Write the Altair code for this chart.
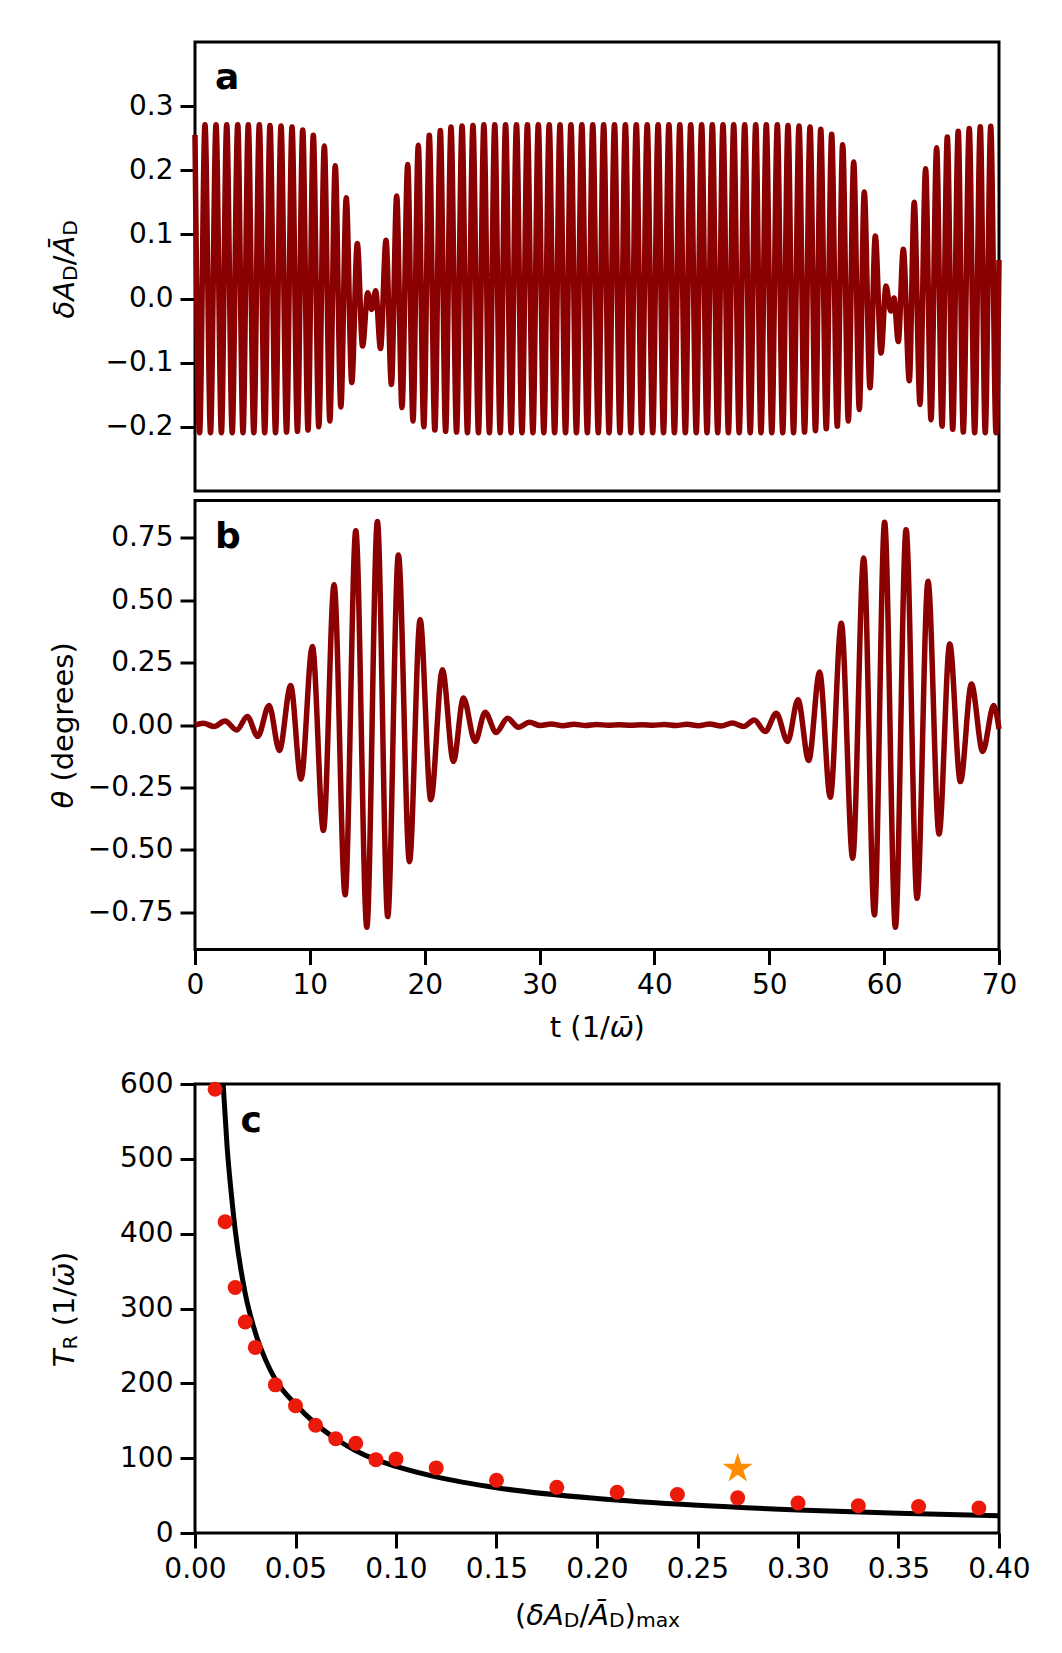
import altair as alt
import pandas as pd

# ---------------- panel a : extrema of dA_D/A_D ----------------
a_t = [0.00, 0.40, 0.87, 1.35, 1.83, 2.30, 2.76, 3.24, 3.72, 4.18,
       4.64, 5.12, 5.60, 6.07, 6.53, 7.01, 7.49, 7.97, 8.45, 8.92,
       9.38, 9.84, 10.30, 10.78, 11.26, 11.74, 12.21, 12.70, 13.17, 13.65,
       14.13, 14.59, 15.04, 15.38, 15.73, 16.15, 16.63, 17.10, 17.56, 18.02,
       18.52, 18.98, 19.44, 19.92, 20.40, 20.88, 21.36, 21.82, 22.29, 22.77,
       23.25, 23.72, 24.20, 24.68, 25.15, 25.63, 26.10, 26.57, 27.04, 27.52,
       27.99, 28.47, 28.94, 29.42, 29.89, 30.37, 30.84, 31.31, 31.78, 32.26,
       32.73, 33.21, 33.68, 34.16, 34.63, 35.11, 35.58, 36.05, 36.52, 37.00,
       37.47, 37.95, 38.42, 38.90, 39.37, 39.85, 40.32, 40.79, 41.26, 41.74,
       42.21, 42.69, 43.16, 43.64, 44.11, 44.58, 45.04, 45.51, 45.97, 46.44,
       46.90, 47.38, 47.86, 48.34, 48.82, 49.28, 49.74, 50.22, 50.70, 51.17,
       51.63, 52.11, 52.59, 53.07, 53.55, 54.02, 54.48, 54.96, 55.43, 55.92,
       56.39, 56.88, 57.35, 57.84, 58.27, 58.77, 59.23, 59.73, 60.16, 60.57,
       60.86, 61.23, 61.67, 62.19, 62.62, 63.12, 63.61, 64.08, 64.57, 65.04,
       65.50, 65.97, 66.45, 66.89, 67.41, 67.88, 68.37, 68.80, 69.28, 69.74,
       70.00]
a_v = [0.255, -0.209, 0.271, -0.209, 0.271, -0.209, 0.271, -0.209, 0.271, -0.209,
       0.271, -0.209, 0.271, -0.209, 0.270, -0.209, 0.269, -0.208, 0.2675, -0.207,
       0.263, -0.205, 0.2545, -0.200, 0.238, -0.191, 0.207, -0.169, 0.157, -0.131,
       0.086, -0.074, 0.009, -0.017, 0.012, -0.078, 0.091, -0.134, 0.160, -0.170,
       0.209, -0.191, 0.239, -0.200, 0.2545, -0.205, 0.262, -0.207, 0.2675, -0.208,
       0.269, -0.209, 0.270, -0.209, 0.271, -0.209, 0.271, -0.209, 0.271, -0.209,
       0.271, -0.209, 0.271, -0.209, 0.271, -0.209, 0.271, -0.209, 0.271, -0.209,
       0.271, -0.209, 0.271, -0.209, 0.271, -0.209, 0.271, -0.209, 0.271, -0.209,
       0.271, -0.209, 0.271, -0.209, 0.271, -0.209, 0.271, -0.209, 0.271, -0.209,
       0.271, -0.209, 0.271, -0.209, 0.271, -0.209, 0.271, -0.209, 0.271, -0.209,
       0.271, -0.209, 0.271, -0.209, 0.271, -0.209, 0.271, -0.209, 0.271, -0.209,
       0.270, -0.209, 0.269, -0.208, 0.2675, -0.206, 0.264, -0.203, 0.256, -0.199,
       0.240, -0.191, 0.213, -0.173, 0.166, -0.139, 0.0975, -0.085, 0.0195, -0.0195,
       0.001, -0.067, 0.077, -0.128, 0.150, -0.165, 0.2025, -0.189, 0.235, -0.199,
       0.252, -0.204, 0.261, -0.208, 0.265, -0.209, 0.268, -0.209, 0.2685, -0.209,
       0.06]

# ---------------- panel b : extrema of theta (degrees) ----------------
b_t = [0.00, 0.73, 1.66, 2.61, 3.63, 4.56, 5.46, 6.45, 7.35, 8.33,
       9.23, 10.22, 11.18, 12.11, 13.07, 14.00, 14.96, 15.88, 16.78, 17.71,
       18.67, 19.60, 20.53, 21.54, 22.50, 23.37, 24.39, 25.26, 26.22, 27.21,
       28.16, 29.12, 30.05, 31.03, 32.02, 33.00, 33.99, 34.97, 35.95, 36.94,
       37.92, 38.91, 39.89, 40.87, 41.86, 42.84, 43.83, 44.81, 45.80, 46.78,
       47.76, 48.69, 49.65, 50.61, 51.60, 52.50, 53.43, 54.38, 55.31, 56.27,
       57.26, 58.22, 59.15, 60.04, 60.98, 61.91, 62.87, 63.82, 64.78, 65.71,
       66.64, 67.60, 68.58, 69.54, 70.00]
b_v = [0.000, 0.007, -0.006, 0.016, -0.020, 0.034, -0.046, 0.078, -0.102, 0.158,
       -0.217, 0.315, -0.423, 0.562, -0.681, 0.779, -0.811, 0.816, -0.768, 0.682,
       -0.548, 0.422, -0.300, 0.221, -0.146, 0.108, -0.066, 0.051, -0.030, 0.027,
       -0.009, 0.011, -0.002, 0.004, -0.003, 0.003, -0.002, 0.002, -0.001, 0.001,
       -0.001, 0.001, -0.001, 0.002, -0.002, 0.003, -0.003, 0.004, -0.004, 0.008,
       -0.006, 0.020, -0.026, 0.047, -0.066, 0.101, -0.142, 0.212, -0.290, 0.408,
       -0.534, 0.669, -0.762, 0.813, -0.811, 0.783, -0.695, 0.576, -0.437, 0.325,
       -0.227, 0.164, -0.106, 0.078, -0.016]

# ---------------- panel c ----------------
c_x = [0.01, 0.015, 0.02, 0.025, 0.03, 0.04, 0.05, 0.06, 0.07, 0.08, 0.09,
       0.10, 0.12, 0.15, 0.18, 0.21, 0.24, 0.27, 0.30, 0.33, 0.36, 0.39]
c_y = [593, 416, 328, 282, 248, 198, 170, 144, 126, 120, 98,
       99, 87, 70.5, 61, 54.5, 51.5, 47, 40, 36.5, 35.5, 33.5]
star_x = [0.27]
star_y = [86]
fit_x = [0.014, 0.016, 0.018, 0.020, 0.025, 0.030, 0.035, 0.040, 0.050, 0.060, 0.070,
         0.080, 0.090, 0.100, 0.120, 0.150, 0.200, 0.250, 0.300, 0.350, 0.400]
fit_y = [600, 515, 455, 405, 320, 268, 232, 205, 172, 146, 126,
         110, 98, 89, 75, 60.5, 46, 37, 30.8, 26.5, 23.2]

tick_a = [-0.2, -0.1, 0.0, 0.1, 0.2, 0.3]
tick_b = [-0.75, -0.5, -0.25, 0.0, 0.25, 0.5, 0.75]
tick_t = [0, 10, 20, 30, 40, 50, 60, 70]
tick_cx = [0.0, 0.05, 0.10, 0.15, 0.20, 0.25, 0.30, 0.35, 0.40]
tick_cy = [0, 100, 200, 300, 400, 500, 600]

# ---------------- styling ----------------
FONT = "DejaVu Sans"
DARKRED = "#8b0000"
W, H = 804, 449
TS = 29        # title font size
SS = 20.3      # subscript font size
STAR = ("M0,-1L0.225,-0.309L0.951,-0.309L0.363,0.118L0.588,0.809L0,0.382"
        "L-0.588,0.809L-0.363,0.118L-0.951,-0.309L-0.225,-0.309Z")
one = pd.DataFrame({"k": [0]})


def piece(s, x, y, size=TS, italic=False, angle=0, weight="normal"):
    return alt.Chart(one).mark_text(
        text=s, align="left", baseline="alphabetic", font=FONT, fontSize=size,
        fontStyle="italic" if italic else "normal", fontWeight=weight,
        angle=angle, color="black",
    ).encode(x=alt.value(x), y=alt.value(y))


def spacer(y):
    return alt.Chart(one).mark_rule(strokeWidth=1, opacity=0).encode(
        x=alt.value(0), x2=alt.value(10), y=alt.value(y))


xt = alt.Scale(domain=[0, 70], nice=False, zero=False)

# ---------------- panel a ----------------
df_a = pd.DataFrame({"t": a_t, "v": a_v})
line_a = alt.Chart(df_a).mark_line(color=DARKRED, strokeWidth=5.5, interpolate="monotone").encode(
    x=alt.X("t:Q", scale=xt, axis=None),
    y=alt.Y("v:Q", scale=alt.Scale(domain=[-0.3, 0.4], nice=False, zero=False),
            axis=alt.Axis(values=tick_a, format=".1f", title=None)),
)
yb = -121
title_a = [
    piece("δA", yb, 276.5, italic=True, angle=270),
    piece("D", yb + 2.5, 238.9, size=SS, angle=270),
    piece("/", yb, 223.3, angle=270),
    piece("Ā", yb, 213.5, italic=True, angle=270),
    piece("D", yb + 2.5, 193.7, size=SS, angle=270),
]
panel_a = alt.layer(line_a, piece("a", 20, 46.5, size=36, weight="bold"), *title_a).properties(width=W, height=H)

# ---------------- panel b ----------------
df_b = pd.DataFrame({"t": b_t, "v": b_v})
line_b = alt.Chart(df_b).mark_line(color=DARKRED, strokeWidth=5.5, interpolate="monotone").encode(
    x=alt.X("t:Q", scale=xt, axis=alt.Axis(values=tick_t, format="d", title=None)),
    y=alt.Y("v:Q", scale=alt.Scale(domain=[-0.9, 0.9], nice=False, zero=False),
            axis=alt.Axis(values=tick_b, format=".2f", title=None)),
)
yb2 = -122.5
title_b = [
    piece("θ", yb2, 308.0, italic=True, angle=270),
    piece("(degrees)", yb2, 281.1, angle=270),
]
xb = H + 87
xtitle_b = [
    piece("t (1/", 354.75, xb),
    piece("ω\u0304", 414.85, xb, italic=True),
    piece(")", 438.55, xb),
]
panel_b = alt.layer(line_b, piece("b", 20, 47.2, size=36, weight="bold"), *title_b, *xtitle_b,
                    spacer(H + 111.2)).properties(width=W, height=H)

# ---------------- panel c ----------------
df_c = pd.DataFrame({"x": c_x, "y": c_y})
df_s = pd.DataFrame({"x": star_x, "y": star_y})
df_f = pd.DataFrame({"x": fit_x, "y": fit_y})
xc = alt.Scale(domain=[0, 0.4], nice=False, zero=False)
yc = alt.Scale(domain=[0, 600], nice=False)
fit = alt.Chart(df_f).mark_line(color="black", strokeWidth=5, interpolate="monotone").encode(
    x=alt.X("x:Q", scale=xc, axis=alt.Axis(values=tick_cx, format=".2f", title=None)),
    y=alt.Y("y:Q", scale=yc, axis=alt.Axis(values=tick_cy, format="d", title=None)),
)
pts = alt.Chart(df_c).mark_circle(size=225, color="#ec1a0a", opacity=1).encode(
    x=alt.X("x:Q", scale=xc), y=alt.Y("y:Q", scale=yc))
star = alt.Chart(df_s).mark_point(shape=STAR, filled=True, size=1000, color="#ff8c00", opacity=1,
                                  strokeWidth=0).encode(
    x=alt.X("x:Q", scale=xc), y=alt.Y("y:Q", scale=yc))
title_c = [
    piece("T", yb, 283.25, italic=True, angle=270),
    piece("R", yb + 2.5, 265.55, size=SS, angle=270),
    piece("(1/", yb, 242.25, angle=270),
    piece("ω\u0304", yb, 202.75, italic=True, angle=270),
    piece(")", yb, 179.05, angle=270),
]
xc_b = H + 91.6
xtitle_c = [
    piece("(", 319.9, xc_b),
    piece("δA", 331.2, xc_b, italic=True),
    piece("D", 368.8, xc_b + 2.5, size=SS),
    piece("/", 384.4, xc_b),
    piece("Ā", 394.2, xc_b, italic=True),
    piece("D", 414.0, xc_b + 2.5, size=SS),
    piece(")", 429.6, xc_b),
    piece("max", 440.9, xc_b + 2.5, size=SS),
]
panel_c = alt.layer(fit, pts, star, piece("c", 45.5, 47.5, size=36, weight="bold"),
                    *title_c, *xtitle_c).properties(width=W, height=H)

chart = alt.vconcat(panel_a, panel_b, panel_c, spacing=5.5).properties(
    padding={"top": 32, "left": 40, "right": 5, "bottom": 5}
).configure(font=FONT).configure_view(
    stroke="black", strokeWidth=3
).configure_axis(
    domain=False, grid=False, ticks=True, tickColor="black", tickWidth=3, tickSize=15,
    labelFont=FONT, labelFontSize=28, labelColor="black", labelPadding=7,
    labelFlush=False, labelOverlap=False,
)

chart.save("out.html", embed_options={"renderer": "svg", "actions": False})
